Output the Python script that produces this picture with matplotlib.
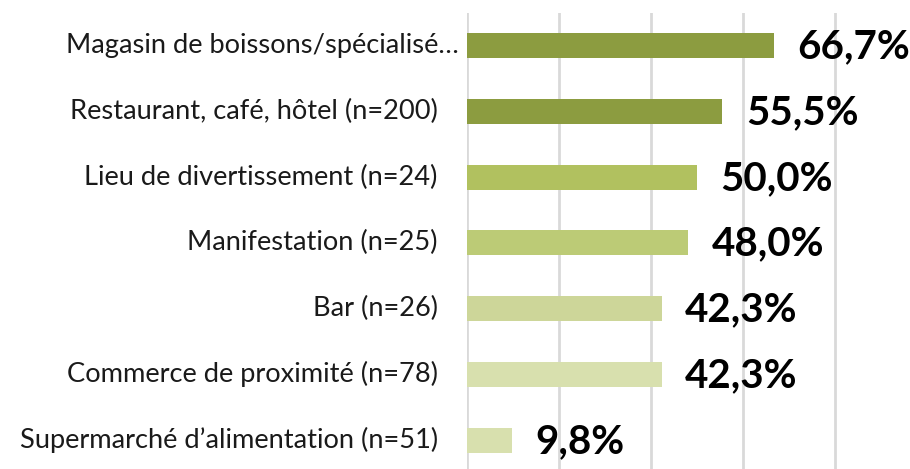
import matplotlib.pyplot as plt

# Donnees
categories = ['Magasin de boissons/spécialisé…',
              'Restaurant, café, hôtel (n=200)',
              'Lieu de divertissement (n=24)',
              'Manifestation (n=25)',
              'Bar (n=26)',
              'Commerce de proximité (n=78)',
              'Supermarché d’alimentation (n=51)']
valeurs = [66.7, 55.5, 50.0, 48.0, 42.3, 42.3, 9.8]
etiquettes = ['66,7%', '55,5%', '50,0%', '48,0%', '42,3%', '42,3%', '9,8%']
couleurs = ['#8c9c40', '#8c9c40', '#b1c15f', '#bccb76', '#cdd699', '#d8e0ae', '#d8e0ae']

fig = plt.figure(figsize=(9.10, 4.69), dpi=100)
ax = fig.add_axes([467/910, 0, 1 - 467/910, 1 - 13/469])

pos = list(range(len(categories)))
ax.barh(pos, valeurs, height=0.38, color=couleurs, zorder=3)

# Valeurs en gras a droite des barres
for p, v, t in zip(pos, valeurs, etiquettes):
    ax.annotate(t, xy=(v, p), xytext=(17, -1), textcoords='offset points',
                ha='left', va='center', fontsize=29, fontweight='bold',
                family='Lato', color='black')

# Etiquettes des categories (la premiere est tronquee, elle deborde plus a droite)
for p, c in zip(pos, categories):
    dx = -6 if c.endswith('…') else -21
    ax.annotate(c, xy=(0, p), xycoords=ax.get_yaxis_transform(),
                xytext=(dx, 0), textcoords='offset points',
                ha='right', va='center', fontsize=19.6, family='Lato',
                color='#1a1a1a')

ax.set_xlim(0, 96.3)
ax.set_ylim(6.44, -0.494)
ax.set_xticks([0, 20, 40, 60, 80])
ax.set_xticklabels([])
ax.set_yticks([])
ax.grid(axis='x', color='#d9d9d9', linewidth=2, zorder=0)
ax.tick_params(axis='x', length=0)
for s in ['top', 'right', 'bottom', 'left']:
    ax.spines[s].set_visible(False)

fig.savefig('out.png', dpi=100)
